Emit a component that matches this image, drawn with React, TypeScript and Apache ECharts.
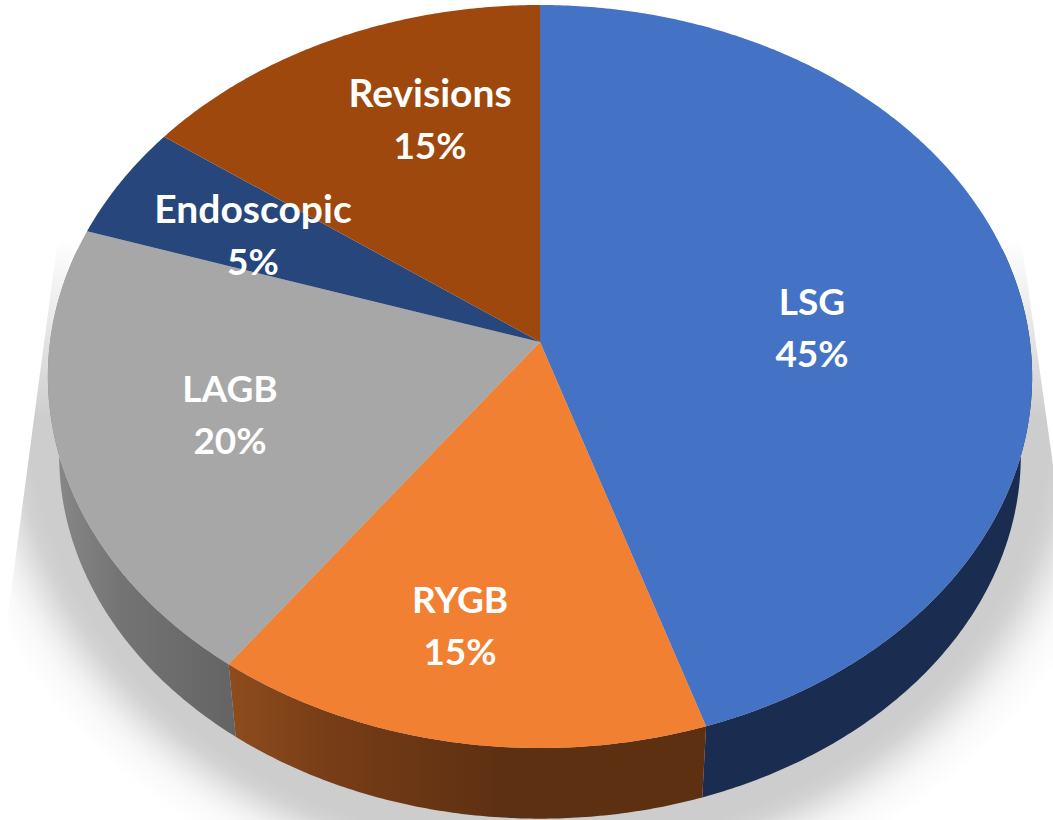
import React, { useEffect, useRef } from "react";
import * as echarts from "echarts";

const categories = ["LSG", "RYGB", "LAGB", "Endoscopic", "Revisions"];
const shares = [45, 15, 20, 5, 15];
const faceColors = ["#4472C4", "#F28033", "#A7A7A7", "#27467B", "#9E480E"];

// Side wall shading, as [x, colour] stops along the page width.
const wallStops: [number, string][][] = [
  [[600, "#1A2D50"], [1053, "#1A2D50"]],
  [[230, "#8E4C1D"], [330, "#773D17"], [500, "#5E3012"], [710, "#5E3012"]],
  [[48, "#8A8A8A"], [120, "#747474"], [235, "#646464"]],
  [[48, "#888888"], [120, "#888888"]],
  [[48, "#888888"], [120, "#888888"]],
];
const labelCentres: [number, number][] = [
  [812, 326],
  [460, 624],
  [230, 413],
  [253, 234],
  [430, 118],
];
const nameFontSizes = [37, 37, 37, 39, 39];

// Projection of the tilted disc on to the page.
const CX = 540;
const TOP_Y = 342;
const A = 490;
const B = 368.3;
const P = 0.0929;
const BOTTOM_SCALE = 0.977;
const BOTTOM_Y = 422;
const WALL_FROM = 75;
const WALL_TO = 285;

const project = (deg: number, scale = 1, y0 = TOP_Y): [number, number] => {
  const t = (deg * Math.PI) / 180;
  const w = 1 + P * Math.cos(t);
  return [CX + (scale * A * Math.sin(t)) / w, y0 - (scale * B * Math.cos(t)) / w];
};

const sweep = (from: number, to: number, scale = 1, y0 = TOP_Y) => {
  const pts: [number, number][] = [];
  const n = Math.max(2, Math.ceil((to - from) * 2));
  for (let i = 0; i <= n; i++) pts.push(project(from + ((to - from) * i) / n, scale, y0));
  return pts;
};

const total = shares.reduce((s, v) => s + v, 0);
let running = 0;
const sliceData = shares.map((v) => {
  const row = [running, running + v, v];
  running += v;
  return row;
});

const wallItem = (params: any, api: any) => {
  const i = params.dataIndex;
  const from = Math.max((api.value(0) / total) * 360, WALL_FROM);
  const to = Math.min((api.value(1) / total) * 360, WALL_TO);
  if (to <= from) return { type: "group", children: [] };
  const stops = wallStops[i];
  const x0 = stops[0][0];
  const x1 = stops[stops.length - 1][0];
  const points = [...sweep(from, to), ...sweep(from, to, BOTTOM_SCALE, BOTTOM_Y).reverse()];
  return {
    type: "polygon",
    shape: { points },
    style: {
      fill: new echarts.graphic.LinearGradient(
        x0, 0, x1, 0,
        stops.map(([x, color]) => ({ offset: (x - x0) / (x1 - x0), color })),
        true
      ),
    },
  };
};

const faceItem = (params: any, api: any) => {
  const from = (api.value(0) / total) * 360;
  const to = (api.value(1) / total) * 360;
  return {
    type: "polygon",
    shape: { points: [[CX, TOP_Y], ...sweep(from, to)] },
    style: { fill: faceColors[params.dataIndex] },
  };
};

const labelItem = (params: any, api: any) => {
  const i = params.dataIndex;
  const [x, y] = labelCentres[i];
  const line = (text: string, dy: number, size: number) => ({
    type: "text",
    x,
    y: y + dy,
    style: {
      text,
      fill: "#FFFFFF",
      font: `700 ${size}px Lato`,
      align: "center",
      verticalAlign: "middle",
    },
  });
  return {
    type: "group",
    children: [line(categories[i], -26, nameFontSizes[i]), line(`${api.value(2)}%`, 26, 37)],
  };
};

export default function App() {
  const ref = useRef<HTMLDivElement>(null);
  useEffect(() => {
    document.body.style.margin = "0";
    const chart = echarts.init(ref.current!, undefined, { renderer: "svg" });
    chart.setOption({
      animation: false,
      backgroundColor: "#FFFFFF",
      graphic: [
        {
          type: "circle",
          z: 0,
          x: 540,
          y: 400,
          scaleY: 0.87,
          shape: { cx: 0, cy: 0, r: 600 },
          style: {
            fill: new echarts.graphic.RadialGradient(0.5, 0.5, 0.5, [
              { offset: 0, color: "#CDCDCD" },
              { offset: 0.855, color: "#CDCDCD" },
              { offset: 0.88, color: "#D3D3D3" },
              { offset: 0.905, color: "#E2E2E2" },
              { offset: 0.93, color: "#F0F0F0" },
              { offset: 0.955, color: "#F9F9F9" },
              { offset: 1, color: "#FFFFFF" },
            ]),
          },
        },
        {
          type: "rect",
          z: 1,
          shape: { x: 0, y: 0, width: 1053, height: 240 },
          style: { fill: "#FFFFFF" },
        },
        {
          type: "rect",
          z: 1,
          shape: { x: 0, y: 239, width: 1053, height: 181 },
          style: {
            fill: new echarts.graphic.LinearGradient(0, 0, 0, 1, [
              { offset: 0, color: "rgba(255,255,255,1)" },
              { offset: 1, color: "rgba(255,255,255,0)" },
            ]),
          },
        },
        {
          type: "polygon",
          z: 1,
          shape: { points: [[0, 230], [59, 230], [0, 675]] },
          style: { fill: "#FFFFFF" },
        },
        {
          type: "polygon",
          z: 1,
          shape: { points: [[1053, 230], [1020, 230], [1053, 465]] },
          style: { fill: "#FFFFFF" },
        },
      ],
      series: [
        { type: "custom", coordinateSystem: "none", z: 2, silent: true, data: sliceData, renderItem: wallItem },
        { type: "custom", coordinateSystem: "none", z: 3, silent: true, data: sliceData, renderItem: faceItem },
        { type: "custom", coordinateSystem: "none", z: 4, silent: true, data: sliceData, renderItem: labelItem },
      ],
    });
    return () => chart.dispose();
  }, []);
  return <div ref={ref} style={{ width: 1053, height: 820 }} />;
}
